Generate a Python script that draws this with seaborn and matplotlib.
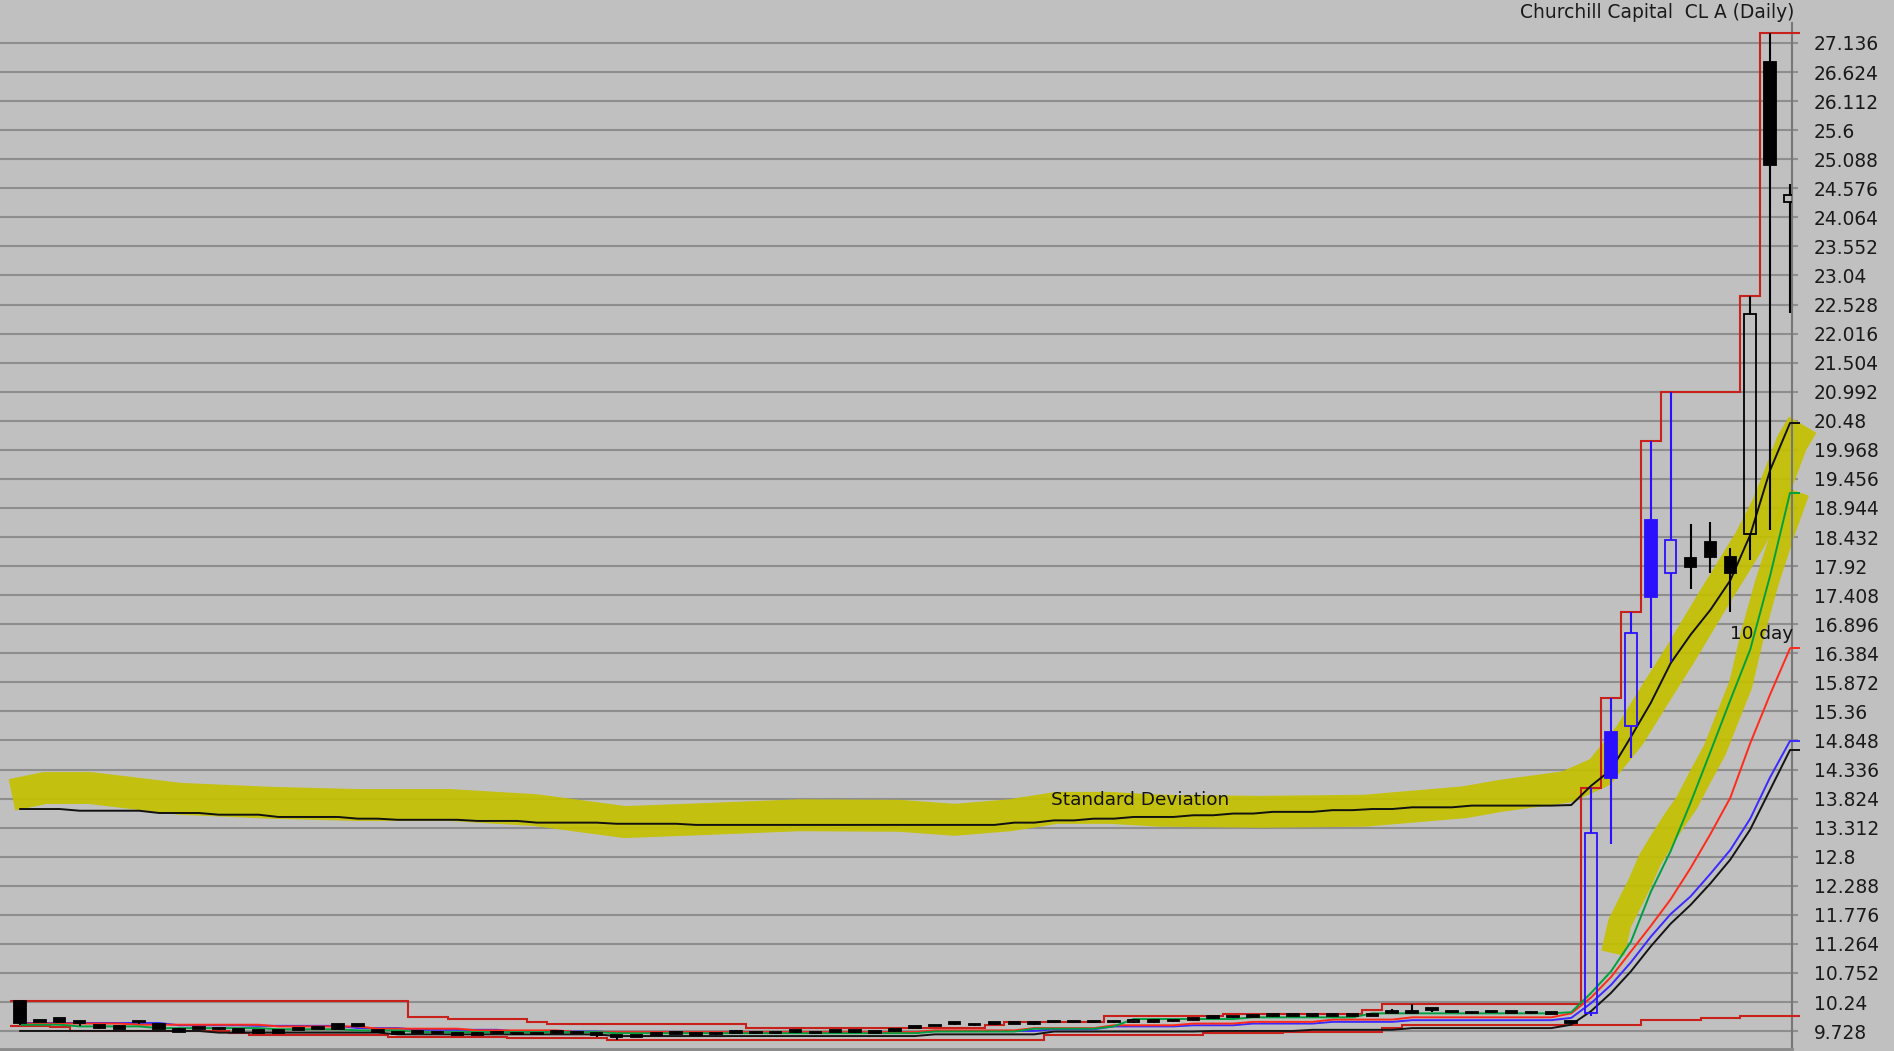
import numpy as np
import pandas as pd
import matplotlib
matplotlib.use("Agg")
import matplotlib.pyplot as plt
import seaborn as sns

# daily bars (price units)
opens = [10.25, 9.89, 9.96, 9.91, 9.84, 9.82, 9.91, 9.85, 9.77, 9.78,
         9.76, 9.76, 9.74, 9.74, 9.75, 9.77, 9.85, 9.85, 9.72, 9.72,
         9.70, 9.69, 9.68, 9.70, 9.69, 9.68, 9.67, 9.70, 9.69, 9.70,
         9.62, 9.63, 9.66, 9.68, 9.66, 9.67, 9.70, 9.69, 9.69, 9.71,
         9.69, 9.72, 9.71, 9.70, 9.73, 9.79, 9.82, 9.85, 9.83, 9.85,
         9.86, 9.85, 9.88, 9.88, 9.88, 9.88, 9.88, 9.93, 9.91, 9.92,
         9.96, 9.97, 9.98, 9.99, 10.00, 9.99, 10.00, 10.00, 10.00, 10.05,
         10.08, 10.10, 10.07, 10.04, 10.06, 10.05, 10.04, 10.04, 9.88,
         10.05, 15.00, 15.10, 18.73, 17.80, 18.06, 18.35, 18.08, 18.49, 26.80, 24.33]
highs = [10.25, 9.92, 9.96, 9.91, 9.84, 9.83, 9.91, 9.86, 9.78, 9.79,
         9.77, 9.76, 9.74, 9.75, 9.76, 9.78, 9.86, 9.85, 9.73, 9.72,
         9.71, 9.70, 9.68, 9.71, 9.70, 9.69, 9.68, 9.71, 9.70, 9.70,
         9.63, 9.64, 9.67, 9.69, 9.70, 9.68, 9.71, 9.72, 9.72, 9.72,
         9.70, 9.73, 9.72, 9.72, 9.74, 9.80, 9.83, 9.86, 9.84, 9.86,
         9.87, 9.86, 9.89, 9.89, 9.89, 9.90, 9.94, 9.94, 9.92, 9.93,
         9.98, 9.98, 9.99, 10.00, 10.01, 10.00, 10.01, 10.01, 10.03, 10.12,
         10.21, 10.14, 10.08, 10.07, 10.07, 10.06, 10.05, 10.05, 9.90,
         14.01, 15.60, 17.11, 20.12, 20.99, 18.66, 18.70, 18.24, 22.68, 27.31, 24.65]
lows = [9.84, 9.88, 9.88, 9.81, 9.77, 9.77, 9.86, 9.76, 9.72, 9.76,
        9.75, 9.71, 9.69, 9.69, 9.74, 9.76, 9.76, 9.80, 9.71, 9.66,
        9.69, 9.68, 9.66, 9.66, 9.68, 9.66, 9.66, 9.69, 9.68, 9.63,
        9.57, 9.62, 9.65, 9.67, 9.65, 9.66, 9.69, 9.68, 9.68, 9.70,
        9.67, 9.71, 9.70, 9.69, 9.72, 9.78, 9.81, 9.84, 9.82, 9.84,
        9.85, 9.84, 9.87, 9.87, 9.87, 9.87, 9.87, 9.87, 9.89, 9.91,
        9.94, 9.96, 9.97, 9.98, 9.99, 9.98, 9.99, 9.99, 9.99, 10.04,
        10.04, 10.06, 10.05, 10.03, 10.05, 10.04, 10.03, 10.02, 9.86,
        10.00, 13.02, 14.54, 16.12, 16.23, 17.52, 17.80, 17.11, 18.03, 18.56, 22.38]
closes = [9.87, 9.89, 9.88, 9.87, 9.78, 9.77, 9.88, 9.77, 9.72, 9.77,
          9.76, 9.72, 9.69, 9.69, 9.75, 9.77, 9.76, 9.81, 9.72, 9.67,
          9.70, 9.69, 9.66, 9.66, 9.69, 9.67, 9.67, 9.70, 9.69, 9.66,
          9.62, 9.63, 9.66, 9.68, 9.66, 9.67, 9.70, 9.69, 9.71, 9.71,
          9.69, 9.72, 9.71, 9.70, 9.73, 9.79, 9.81, 9.85, 9.83, 9.85,
          9.86, 9.85, 9.88, 9.88, 9.88, 9.88, 9.93, 9.88, 9.90, 9.92,
          9.96, 9.97, 9.98, 9.99, 10.00, 9.99, 10.00, 10.00, 10.00, 10.05,
          10.05, 10.10, 10.06, 10.06, 10.06, 10.05, 10.04, 10.03, 9.87,
          13.22, 14.19, 16.74, 17.38, 18.38, 17.90, 18.08, 17.80, 22.36, 24.99, 24.46]
# the chart paints the breakout bars blue
candle_group = ["black"] * 79 + ["blue"] * 5 + ["black"] * 6

# channel: highest high / lowest low
upper_channel = [10.25, 10.25, 10.25, 10.25, 10.25, 10.25, 10.25, 10.25, 10.25, 10.25,
                 10.25, 10.25, 10.25, 10.25, 10.25, 10.25, 10.25, 10.25, 10.25, 10.25,
                 9.98, 9.98, 9.94, 9.94, 9.94, 9.94, 9.89, 9.85, 9.85, 9.85,
                 9.85, 9.85, 9.85, 9.85, 9.85, 9.85, 9.85, 9.78, 9.78, 9.78,
                 9.78, 9.78, 9.78, 9.78, 9.78, 9.78, 9.78, 9.78, 9.78, 9.83,
                 9.88, 9.88, 9.88, 9.88, 9.88, 9.99, 9.99, 9.99, 9.99, 9.99,
                 9.99, 10.03, 10.03, 10.03, 10.03, 10.03, 10.03, 10.03, 10.10, 10.21,
                 10.21, 10.21, 10.21, 10.21, 10.21, 10.21, 10.21, 10.21, 10.21,
                 14.01, 15.60, 17.11, 20.12, 20.99, 20.99, 20.99, 20.99, 22.68, 27.31, 27.31]
lower_channel = [9.82, 9.82, 9.80, 9.73, 9.73, 9.73, 9.73, 9.73, 9.73, 9.73,
                 9.73, 9.70, 9.66, 9.66, 9.66, 9.66, 9.66, 9.66, 9.66, 9.63,
                 9.63, 9.63, 9.63, 9.63, 9.63, 9.61, 9.61, 9.61, 9.61, 9.61,
                 9.57, 9.57, 9.57, 9.57, 9.57, 9.57, 9.57, 9.57, 9.57, 9.57,
                 9.57, 9.57, 9.57, 9.57, 9.57, 9.57, 9.57, 9.57, 9.57, 9.57,
                 9.57, 9.57, 9.66, 9.66, 9.66, 9.66, 9.66, 9.66, 9.66, 9.66,
                 9.69, 9.69, 9.69, 9.69, 9.71, 9.71, 9.71, 9.71, 9.71, 9.78,
                 9.84, 9.84, 9.84, 9.84, 9.84, 9.84, 9.84, 9.84, 9.84,
                 9.84, 9.84, 9.84, 9.92, 9.92, 9.92, 9.96, 9.96, 9.99, 9.99, 9.99]

# moving averages
ma_10day = [9.84, 9.84, 9.84, 9.81, 9.81, 9.81, 9.81, 9.78, 9.78, 9.78,
            9.78, 9.78, 9.78, 9.76, 9.76, 9.76, 9.76, 9.74, 9.74, 9.74,
            9.71, 9.71, 9.71, 9.71, 9.71, 9.71, 9.71, 9.71, 9.71, 9.71,
            9.69, 9.69, 9.69, 9.69, 9.69, 9.69, 9.69, 9.69, 9.69, 9.69,
            9.69, 9.69, 9.69, 9.69, 9.69, 9.69, 9.72, 9.72, 9.72, 9.72,
            9.72, 9.77, 9.77, 9.77, 9.77, 9.81, 9.94, 9.94, 9.94, 9.94,
            9.94, 9.94, 9.97, 9.97, 9.97, 9.97, 9.97, 9.97, 10.04, 10.04,
            10.04, 10.04, 10.04, 10.04, 10.04, 10.04, 10.04, 10.04, 10.06,
            10.40, 10.78, 11.30, 12.18, 12.90, 13.75, 14.65, 15.56, 16.45, 17.75, 19.21]
ma_red = [9.86, 9.86, 9.86, 9.86, 9.86, 9.86, 9.84, 9.84, 9.84, 9.84,
          9.84, 9.84, 9.84, 9.81, 9.81, 9.81, 9.81, 9.81, 9.77, 9.77,
          9.77, 9.77, 9.77, 9.74, 9.74, 9.74, 9.74, 9.74, 9.71, 9.71,
          9.71, 9.71, 9.71, 9.71, 9.71, 9.71, 9.71, 9.71, 9.71, 9.71,
          9.71, 9.71, 9.71, 9.71, 9.71, 9.71, 9.74, 9.74, 9.74, 9.74,
          9.74, 9.78, 9.78, 9.78, 9.78, 9.83, 9.83, 9.83, 9.83, 9.86,
          9.86, 9.86, 9.89, 9.89, 9.89, 9.89, 9.93, 9.93, 9.93, 9.93,
          9.97, 9.97, 9.97, 9.97, 9.97, 9.97, 9.97, 9.97, 10.04,
          10.32, 10.68, 11.13, 11.58, 12.05, 12.60, 13.20, 13.84, 14.80, 15.66, 16.47]
ma_blue = [9.87, 9.87, 9.87, 9.87, 9.87, 9.87, 9.87, 9.87, 9.83, 9.83,
           9.83, 9.83, 9.82, 9.82, 9.82, 9.82, 9.82, 9.78, 9.78, 9.78,
           9.75, 9.75, 9.75, 9.75, 9.75, 9.72, 9.72, 9.72, 9.72, 9.72,
           9.70, 9.70, 9.70, 9.70, 9.70, 9.70, 9.70, 9.70, 9.70, 9.70,
           9.70, 9.70, 9.70, 9.70, 9.70, 9.70, 9.73, 9.73, 9.73, 9.73,
           9.73, 9.73, 9.76, 9.76, 9.76, 9.81, 9.81, 9.81, 9.81, 9.83,
           9.83, 9.83, 9.86, 9.86, 9.86, 9.86, 9.89, 9.89, 9.89, 9.89,
           9.92, 9.92, 9.92, 9.92, 9.92, 9.92, 9.92, 9.92, 9.96,
           10.22, 10.54, 10.94, 11.39, 11.79, 12.10, 12.50, 12.92, 13.47, 14.20, 14.84]
ma_black = [9.73, 9.73, 9.73, 9.73, 9.73, 9.73, 9.73, 9.73, 9.73, 9.73,
            9.70, 9.70, 9.70, 9.70, 9.70, 9.70, 9.70, 9.70, 9.70, 9.67,
            9.67, 9.67, 9.67, 9.67, 9.67, 9.67, 9.67, 9.67, 9.67, 9.67,
            9.64, 9.64, 9.64, 9.64, 9.64, 9.64, 9.64, 9.64, 9.64, 9.64,
            9.64, 9.64, 9.64, 9.64, 9.64, 9.64, 9.67, 9.67, 9.67, 9.67,
            9.67, 9.67, 9.72, 9.72, 9.72, 9.72, 9.72, 9.72, 9.72, 9.72,
            9.73, 9.73, 9.73, 9.73, 9.73, 9.75, 9.75, 9.75, 9.75, 9.75,
            9.78, 9.78, 9.78, 9.78, 9.78, 9.78, 9.78, 9.78, 9.84,
            10.08, 10.40, 10.78, 11.22, 11.62, 11.95, 12.33, 12.75, 13.28, 13.98, 14.68]
std_dev = [13.64, 13.64, 13.64, 13.61, 13.61, 13.61, 13.61, 13.57, 13.57, 13.57,
           13.54, 13.54, 13.54, 13.50, 13.50, 13.50, 13.50, 13.47, 13.47, 13.45,
           13.45, 13.45, 13.45, 13.43, 13.43, 13.43, 13.40, 13.40, 13.40, 13.40,
           13.38, 13.38, 13.38, 13.38, 13.36, 13.36, 13.36, 13.36, 13.36, 13.36,
           13.36, 13.36, 13.36, 13.36, 13.36, 13.36, 13.36, 13.36, 13.36, 13.36,
           13.40, 13.40, 13.44, 13.44, 13.47, 13.47, 13.50, 13.50, 13.50, 13.53,
           13.53, 13.56, 13.56, 13.59, 13.59, 13.59, 13.62, 13.62, 13.64, 13.64,
           13.67, 13.67, 13.67, 13.70, 13.70, 13.70, 13.70, 13.70, 13.71,
           14.05, 14.33, 14.91, 15.51, 16.21, 16.71, 17.15, 17.67, 18.47, 19.61, 20.44]

# hand drawn highlighter strokes (bar position, price)
mark_sd_x = [-0.4, 1.26, 3.52, 8.04, 12.57, 17.09, 21.62, 25.94, 30.42, 34.19, 39.22,
             44.24, 47.01, 49.77, 52.14, 54.80, 57.32, 62.34, 67.62, 72.65, 74.41,
             77.78, 79.44, 80.94, 82.20, 83.46, 85.12, 86.98, 87.83, 88.39, 89.09, 89.64]
mark_sd_y = [13.89, 14.01, 14.01, 13.82, 13.75, 13.71, 13.71, 13.62, 13.41, 13.46, 13.53,
             13.52, 13.45, 13.53, 13.66, 13.66, 13.61, 13.59, 13.61, 13.76, 13.87,
             14.03, 14.29, 14.94, 15.65, 16.35, 17.32, 18.38, 18.96, 19.44, 20.09, 20.41]
mark_10d_x = [80.09, 80.44, 80.84, 81.40, 81.95, 82.55, 83.21, 83.81, 84.46, 85.22,
              85.87, 86.52, 87.13, 87.83, 88.64, 89.39]
mark_10d_y = [11.10, 11.63, 11.91, 12.30, 12.74, 13.09, 13.45, 13.75, 14.19, 14.68,
              15.26, 15.83, 16.74, 17.62, 18.50, 19.23]

price_ticks = [9.728, 10.24, 10.752, 11.264, 11.776, 12.288, 12.8, 13.312, 13.824, 14.336,
               14.848, 15.36, 15.872, 16.384, 16.896, 17.408, 17.92, 18.432, 18.944, 19.456,
               19.968, 20.48, 20.992, 21.504, 22.016, 22.528, 23.04, 23.552, 24.064, 24.576,
               25.088, 25.6, 26.112, 26.624, 27.136]
tick_labels = ["9.728", "10.24", "10.752", "11.264", "11.776", "12.288", "12.8", "13.312",
               "13.824", "14.336", "14.848", "15.36", "15.872", "16.384", "16.896", "17.408",
               "17.92", "18.432", "18.944", "19.456", "19.968", "20.48", "20.992", "21.504",
               "22.016", "22.528", "23.04", "23.552", "24.064", "24.576", "25.088", "25.6",
               "26.112", "26.624", "27.136"]
title = "Churchill Capital  CL A (Daily)"

BG = "#c0c0c0"
GRID = "#8e8e8e"
YELLOW = "#c4c000"
colour = {"black": "#000000", "blue": "#2a10ff"}

sns.set_style("ticks")
plt.rcParams["font.family"] = ["DejaVu Sans"]

df = pd.DataFrame({"open": opens, "high": highs, "low": lows, "close": closes,
                   "group": candle_group, "upper": upper_channel, "lower": lower_channel,
                   "ma10": ma_10day, "ma_red": ma_red, "ma_blue": ma_blue,
                   "ma_black": ma_black, "sd": std_dev})
df["bar"] = np.arange(len(df))

W, H = 1894, 1051
fig = plt.figure(figsize=(W / 100, H / 100), dpi=100, facecolor=BG)
ax = fig.add_axes([0, 2 / H, 1792 / W, 1026 / H])
ax.set_facecolor(BG)
ax.set_xlim(-1.0, 89.1)
ax.set_ylim(9.412, 27.488)

ax.set_xticks([])
ax.set_yticks(price_ticks)
ax.set_yticklabels(tick_labels)
ax.yaxis.tick_right()
ax.tick_params(axis="y", direction="out", length=4.3, width=1.5, color=GRID,
               pad=11.5, labelsize=13.4, labelcolor="#1a1a1a")
ax.set_axisbelow(True)
ax.yaxis.grid(True, color=GRID, linewidth=1.5)
for s in ["left", "top"]:
    ax.spines[s].set_visible(False)
ax.spines["right"].set_color("#777777")
ax.spines["right"].set_linewidth(1.5)
ax.spines["bottom"].set_color("#8a8a8a")
ax.spines["bottom"].set_linewidth(2)

# highlighter strokes
ax.plot(mark_sd_x, mark_sd_y, color=YELLOW, lw=23, alpha=0.92, solid_capstyle="butt",
        solid_joinstyle="round", zorder=1, clip_on=False)
ax.plot(mark_10d_x, mark_10d_y, color=YELLOW, lw=17, alpha=0.92, solid_capstyle="butt",
        solid_joinstyle="round", zorder=1, clip_on=False)

# price channel
edges = np.arange(len(df) + 1) - 0.5
ax.stairs(df["upper"], edges, baseline=None, color="#c8201a", lw=1.5, zorder=3, clip_on=False)
ax.stairs(df["lower"], edges, baseline=None, color="#c8201a", lw=1.5, zorder=3, clip_on=False)

# averages and the standard deviation line
lines = [("ma_black", "#141414"), ("ma_blue", "#3a2aff"), ("ma_red", "#ff2a1a"),
         ("ma10", "#00a040"), ("sd", "#101010")]
last = df.iloc[-1]
for col, c in lines:
    sns.lineplot(data=df, x="bar", y=col, ax=ax, color=c, linewidth=1.4,
                 estimator=None, sort=False, legend=False, zorder=3)
    ax.hlines(last[col], last["bar"], last["bar"] + 0.5, color=c, lw=1.4, zorder=3, clip_on=False)

# candles
body_lo = np.minimum(df["open"], df["close"])
body_hi = np.maximum(df["open"], df["close"])
cols = [colour[g] for g in df["group"]]
filled = (df["close"] <= df["open"]).values
ax.vlines(df["bar"], df["low"], body_lo, colors=cols, lw=1.5, zorder=4)
ax.vlines(df["bar"], body_hi, df["high"], colors=cols, lw=1.5, zorder=4)
heights = np.maximum(body_hi - body_lo, 0.03)
faces = [c if f else "none" for c, f in zip(cols, filled)]
ax.bar(df["bar"], heights, bottom=body_lo, width=0.58, color=faces, edgecolor=cols,
       linewidth=1.3, zorder=5)

ax.text(56.3, 13.80, "Standard Deviation", ha="center", va="center", fontsize=13.3,
        color="#111111", zorder=6)
ax.text(86.0, 16.72, "10 day", ha="left", va="center", fontsize=13.3,
        color="#111111", zorder=6, clip_on=False)
fig.text(1794 / W, 1 - 12 / H, title, ha="right", va="center", fontsize=13.4, color="#1a1a1a")

ax.set_xlabel("")
ax.set_ylabel("")
fig.savefig("out.png", dpi=100, facecolor=BG)
